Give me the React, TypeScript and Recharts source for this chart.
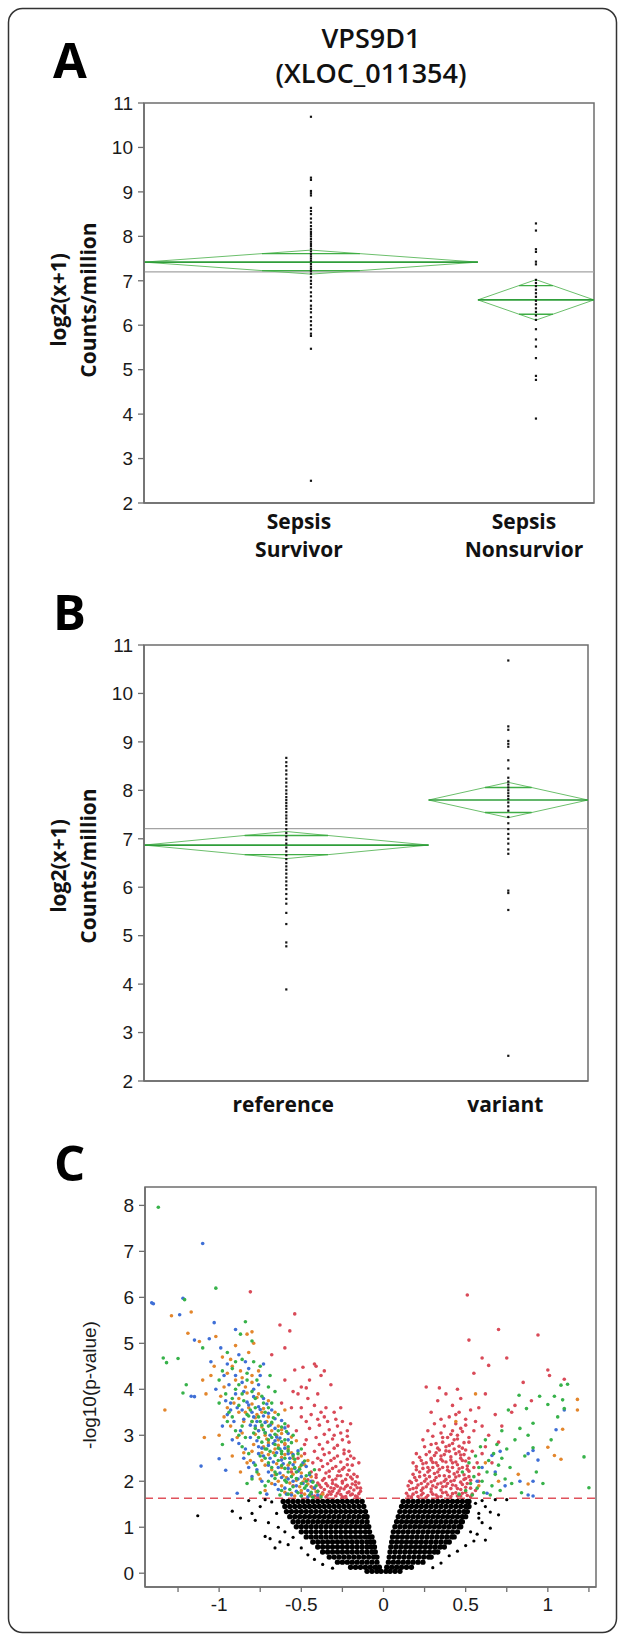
import React from 'react'
import { ScatterChart, Scatter, XAxis, YAxis, ReferenceLine, ReferenceArea } from 'recharts'

// ---- panel A: VPS9D1 by outcome ----
const aLabels = [['Sepsis', 'Survivor'], ['Sepsis', 'Nonsurvior']]
const aBounds = [0, 0.742, 1] // group widths (proportional to n, JMP style)
const aMeans = [7.42, 6.57]
const aHalfCI = [0.27, 0.455]
const aGrand = 7.2
const aSurvivor = [10.69, 9.32, 9.27, 9.02, 8.97, 8.92, 8.64, 8.57, 8.5, 8.4, 8.31, 8.23, 8.16, 8.1, 8.05, 8.0, 7.94,
  7.88, 7.83, 7.78, 7.72, 7.66, 7.6, 7.55, 7.5, 7.45, 7.38, 7.32, 7.27, 7.22, 7.16, 7.08, 7.0, 6.93, 6.85, 6.74, 6.65,
  6.55, 6.44, 6.37, 6.29, 6.18, 6.09, 6.0, 5.91, 5.81, 5.76, 5.47, 2.5]
const aNonsurvivor = [8.29, 8.13, 7.71, 7.65, 7.43, 7.37, 7.02, 6.95, 6.88, 6.8, 6.72, 6.64, 6.55, 6.47, 6.38, 6.3,
  6.22, 6.12, 5.91, 5.68, 5.52, 5.26, 4.86, 4.77, 3.9]

// ---- panel B: by genotype ----
const bLabels = [['reference'], ['variant']]
const bBounds = [0, 0.641, 1]
const bMeans = [6.87, 7.8]
const bHalfCI = [0.28, 0.365]
const bGrand = 7.21
const bReference = [8.67, 8.58, 8.5, 8.41, 8.33, 8.24, 8.16, 8.08, 8.0, 7.93, 7.86, 7.8, 7.74, 7.68, 7.62, 7.55, 7.48,
  7.42, 7.35, 7.28, 7.2, 7.12, 7.05, 6.98, 6.9, 6.82, 6.74, 6.66, 6.58, 6.5, 6.43, 6.36, 6.28, 6.2, 6.12, 6.04, 5.96,
  5.86, 5.76, 5.66, 5.47, 5.24, 4.86, 4.78, 3.89]
const bVariant = [10.68, 9.32, 9.25, 9.02, 8.96, 8.9, 8.62, 8.45, 8.26, 8.18, 8.12, 8.06, 8.0, 7.94, 7.88, 7.82, 7.75,
  7.67, 7.58, 7.45, 7.32, 7.2, 7.1, 7.0, 6.9, 6.78, 6.69, 5.93, 5.88, 5.53, 2.52]
const groupTicks = [2, 3, 4, 5, 6, 7, 8, 9, 10, 11]

// ---- panel C: volcano (log2 fold change, -log10 p) ----
const volcanoXTicks = [-1.25, -1, -0.75, -0.5, -0.25, 0, 0.25, 0.5, 0.75, 1, 1.25]
const volcanoYTicks = [0, 1, 2, 3, 4, 5, 6, 7, 8]
const pThreshold = 1.63

// dense non-significant cloud, written as rows "y| x x x"
const blackCore = `
0.04| -0.1 -0.07 -0.04 -0.015 0.015 0.04 0.07 0.1
0.13| -0.2 -0.17 -0.14 -0.11 -0.08 -0.05 -0.025 0.02 0.05 0.08 0.11 0.14 0.17
0.24| -0.28 -0.25 -0.22 -0.19 -0.16 -0.13 -0.1 -0.07 -0.04 0.03 0.06 0.09 0.12 0.15 0.18 0.21 0.24
0.35| -0.33 -0.3 -0.27 -0.24 -0.21 -0.18 -0.15 -0.12 -0.09 -0.06 -0.04 0.035 0.065 0.095 0.125 0.155 0.185 0.215 0.245 0.275 0.29
0.46| -0.37 -0.34 -0.31 -0.28 -0.25 -0.22 -0.19 -0.16 -0.13 -0.1 -0.07 -0.05 0.04 0.07 0.1 0.13 0.16 0.19 0.22 0.25 0.28 0.31 0.33
0.57| -0.4 -0.37 -0.34 -0.31 -0.28 -0.25 -0.22 -0.19 -0.16 -0.13 -0.1 -0.075 -0.055 0.045 0.075 0.105 0.135 0.165 0.195 0.225 0.255 0.285 0.315 0.345 0.37
0.68| -0.43 -0.4 -0.37 -0.34 -0.31 -0.28 -0.25 -0.22 -0.19 -0.16 -0.13 -0.1 -0.08 -0.06 0.05 0.08 0.11 0.14 0.17 0.2 0.23 0.26 0.29 0.32 0.35 0.38 0.4
0.79| -0.47 -0.44 -0.41 -0.38 -0.35 -0.32 -0.29 -0.26 -0.23 -0.2 -0.17 -0.14 -0.11 -0.085 -0.07 0.055 0.085 0.115 0.145 0.175 0.205 0.235 0.265 0.295 0.325 0.355 0.385 0.415 0.43
0.9| -0.5 -0.47 -0.44 -0.41 -0.38 -0.35 -0.32 -0.29 -0.26 -0.23 -0.2 -0.17 -0.14 -0.11 -0.085 0.06 0.09 0.12 0.15 0.18 0.21 0.24 0.27 0.3 0.33 0.36 0.39 0.42 0.45
1.01| -0.53 -0.5 -0.47 -0.44 -0.41 -0.38 -0.35 -0.32 -0.29 -0.26 -0.23 -0.2 -0.17 -0.14 -0.11 -0.09 0.07 0.1 0.13 0.16 0.19 0.22 0.25 0.28 0.31 0.34 0.37 0.4 0.43 0.46 0.47
1.12| -0.55 -0.52 -0.49 -0.46 -0.43 -0.4 -0.37 -0.34 -0.31 -0.28 -0.25 -0.22 -0.19 -0.16 -0.13 -0.1 0.08 0.11 0.14 0.17 0.2 0.23 0.26 0.29 0.32 0.35 0.38 0.41 0.44 0.47 0.48
1.23| -0.57 -0.54 -0.51 -0.48 -0.45 -0.42 -0.39 -0.36 -0.33 -0.3 -0.27 -0.24 -0.21 -0.18 -0.15 -0.12 -0.1 0.09 0.12 0.15 0.18 0.21 0.24 0.27 0.3 0.33 0.36 0.39 0.42 0.45 0.48 0.5
1.34| -0.59 -0.56 -0.53 -0.5 -0.47 -0.44 -0.41 -0.38 -0.35 -0.32 -0.29 -0.26 -0.23 -0.2 -0.17 -0.14 -0.11 0.1 0.13 0.16 0.19 0.22 0.25 0.28 0.31 0.34 0.37 0.4 0.43 0.46 0.49 0.51
1.45| -0.6 -0.57 -0.54 -0.51 -0.48 -0.45 -0.42 -0.39 -0.36 -0.33 -0.3 -0.27 -0.24 -0.21 -0.18 -0.15 -0.12 0.11 0.14 0.17 0.2 0.23 0.26 0.29 0.32 0.35 0.38 0.41 0.44 0.47 0.5 0.52
1.56| -0.61 -0.58 -0.55 -0.52 -0.49 -0.46 -0.43 -0.4 -0.37 -0.34 -0.31 -0.28 -0.25 -0.22 -0.19 -0.16 -0.13 0.12 0.15 0.18 0.21 0.24 0.27 0.3 0.33 0.36 0.39 0.42 0.45 0.48 0.51 0.52
`

const blackSparse = `-1.13,1.25 -0.92,1.35 -0.87,1.2 -0.8,1.3 -0.78,1.15 -0.75,1.45 -0.72,0.8 -0.69,0.75 -0.66,0.55
-0.63,0.68 -0.64,1.0 -0.7,1.1 -0.68,1.55 -0.72,1.6 -0.6,0.9 -0.82,1.58 -0.65,1.3 -0.58,0.62 -0.55,0.78 -0.5,0.55
-0.46,0.4 -0.42,0.3 -0.37,0.19 -0.31,0.11 0.58,1.3 0.62,1.45 0.65,1.33 0.7,1.27 0.65,0.98 0.6,1.1 0.57,0.85 0.55,0.7
0.5,0.6 0.45,0.48 0.4,0.38 0.35,0.22 0.6,1.58 0.68,1.6 0.75,1.6 0.56,1.52 0.62,0.72 0.58,1.2 0.53,0.9 0.3,0.12`

const redPts = `-0.42,1.68 -0.38,1.7 -0.35,1.66 -0.32,1.72 -0.29,1.68 -0.26,1.71 -0.23,1.67 -0.2,1.7 -0.17,1.68
-0.15,1.73 -0.4,1.78 -0.36,1.82 -0.33,1.77 -0.3,1.84 -0.27,1.79 -0.24,1.83 -0.21,1.77 -0.18,1.81 -0.16,1.86 -0.44,1.88
-0.39,1.92 -0.34,1.9 -0.31,1.95 -0.28,1.89 -0.25,1.96 -0.22,1.91 -0.19,1.94 -0.17,1.99 -0.46,2.03 -0.41,2.08
-0.37,2.02 -0.33,2.1 -0.29,2.05 -0.26,2.12 -0.23,2.04 -0.2,2.09 -0.18,2.15 -0.44,2.2 -0.39,2.25 -0.35,2.18 -0.31,2.28
-0.27,2.22 -0.24,2.3 -0.21,2.24 -0.19,2.35 -0.43,2.4 -0.38,2.45 -0.34,2.38 -0.3,2.5 -0.26,2.42 -0.22,2.48 -0.2,2.55
-0.48,2.6 -0.42,2.65 -0.37,2.7 -0.33,2.62 -0.28,2.78 -0.24,2.68 -0.21,2.85 -0.47,2.9 -0.41,2.95 -0.36,3.02 -0.31,2.92
-0.26,3.05 -0.22,3.1 -0.2,3.25 -0.45,3.15 -0.39,3.22 -0.34,3.3 -0.29,3.35 -0.44,3.45 -0.38,3.5 -0.5,3.6 -0.42,3.65
-0.46,3.8 -0.52,3.9 -0.5,4.05 -0.47,4.03 -0.54,4.42 -0.49,4.48 -0.42,4.55 -0.41,4.5 -0.36,4.4 -0.57,5.27 -0.63,5.4
-0.54,5.64 -0.81,6.12 -0.6,4.9 -0.68,4.75 -0.55,3.95 -0.62,3.7 -0.56,2.2 -0.6,2.8 -0.58,3.2 -0.52,2.5 -0.55,1.9
-0.5,1.75 -0.44,1.72 -0.4,1.66 -0.37,1.75 -0.34,1.7 -0.31,1.78 -0.28,1.74 -0.25,1.66 -0.22,1.75 -0.19,1.72 -0.16,1.66
-0.14,1.78 -0.42,1.84 -0.38,1.87 -0.35,1.95 -0.32,1.86 -0.29,1.92 -0.26,1.85 -0.23,1.88 -0.2,1.86 -0.17,1.92
-0.15,1.96 -0.43,2.0 -0.4,1.96 -0.36,2.06 -0.31,2.02 -0.28,2.12 -0.25,2.0 -0.22,2.14 -0.19,2.05 -0.41,2.14 -0.37,2.32
-0.33,2.22 -0.29,2.32 -0.25,2.26 -0.22,2.36 -0.4,2.5 -0.36,2.58 -0.32,2.45 -0.28,2.55 -0.24,2.6 -0.21,2.65 -0.39,2.8
-0.34,2.85 -0.3,2.72 -0.25,2.9 -0.22,2.98 -0.33,3.12 -0.28,3.2 -0.25,3.3 -0.36,3.4 -0.3,3.5 -0.4,3.35 -0.47,3.3
-0.53,3.1 -0.35,3.6 -0.4,3.9 -0.3,3.0 -0.45,4.2 -0.32,4.1 -0.38,4.3 -0.26,3.6 -0.5,3.4 -0.56,3.6 -0.6,4.2 -0.48,2.8
-0.18,2.5 -0.16,2.1 -0.15,2.4 -0.14,1.85
0.15,1.68 0.18,1.72 0.21,1.67 0.24,1.74 0.27,1.69 0.3,1.72 0.33,1.66 0.36,1.75 0.39,1.7 0.42,1.73 0.45,1.68
0.48,1.74 0.51,1.69 0.54,1.72 0.16,1.82 0.2,1.86 0.23,1.8 0.26,1.88 0.29,1.83 0.32,1.87 0.35,1.81 0.38,1.89 0.41,1.84
0.44,1.9 0.47,1.82 0.5,1.87 0.53,1.85 0.17,1.97 0.2,2.02 0.23,1.95 0.26,2.05 0.29,1.99 0.32,2.08 0.35,1.96 0.38,2.04
0.41,2.0 0.44,2.09 0.47,1.98 0.5,2.06 0.53,2.02 0.18,2.15 0.22,2.2 0.25,2.13 0.28,2.24 0.31,2.17 0.34,2.26 0.37,2.12
0.4,2.21 0.43,2.16 0.46,2.27 0.49,2.14 0.52,2.22 0.2,2.32 0.24,2.38 0.27,2.3 0.3,2.41 0.33,2.34 0.36,2.44 0.39,2.31
0.42,2.4 0.45,2.36 0.48,2.45 0.51,2.33 0.22,2.52 0.26,2.58 0.29,2.5 0.32,2.62 0.35,2.55 0.38,2.66 0.41,2.53 0.44,2.6
0.47,2.57 0.5,2.68 0.25,2.75 0.29,2.8 0.33,2.72 0.36,2.85 0.4,2.78 0.43,2.9 0.46,2.76 0.49,2.84 0.3,2.98 0.35,3.05
0.39,2.95 0.42,3.1 0.45,3.0 0.48,3.08 0.52,2.95 0.37,3.2 0.44,3.25 0.5,3.22 0.55,3.1 0.4,3.4 0.46,3.5 0.42,3.65
0.47,3.8 0.45,4.0 0.26,4.05 0.34,4.03 0.55,4.35 0.6,4.68 0.64,4.52 0.75,4.68 0.51,6.05 0.52,5.07 0.7,5.3 0.94,5.18
1.0,4.42 1.01,4.3 1.1,4.22 0.85,4.15 0.8,3.65 0.9,3.75 0.62,3.9 0.58,3.6 0.68,3.45 0.72,3.2 0.78,3.5 0.56,3.3 0.64,3.0
0.7,2.85 0.6,2.6 0.66,2.4 0.58,2.15 0.29,3.5 0.33,3.75 0.38,3.9 0.53,3.55 0.35,3.35 0.14,1.74 0.17,1.66 0.2,1.76
0.23,1.7 0.26,1.65 0.29,1.77 0.32,1.7 0.35,1.67 0.38,1.76 0.41,1.67 0.44,1.75 0.47,1.68 0.5,1.76 0.53,1.66 0.15,1.9
0.18,1.84 0.21,1.92 0.24,1.85 0.27,1.94 0.3,1.9 0.33,1.94 0.36,1.88 0.39,1.95 0.42,1.92 0.45,1.84 0.48,1.93 0.51,1.95
0.19,2.08 0.22,2.1 0.25,2.0 0.28,2.1 0.31,2.02 0.34,2.12 0.37,2.0 0.4,2.1 0.43,2.02 0.46,2.12 0.49,2.04 0.52,2.1
0.2,2.25 0.24,2.28 0.27,2.2 0.3,2.3 0.33,2.2 0.36,2.3 0.39,2.24 0.42,2.3 0.45,2.2 0.48,2.3 0.51,2.26 0.23,2.45 0.26,2.4
0.29,2.46 0.32,2.4 0.35,2.48 0.38,2.42 0.41,2.46 0.44,2.42 0.47,2.5 0.5,2.44 0.28,2.64 0.31,2.56 0.34,2.68 0.37,2.58
0.4,2.65 0.43,2.7 0.46,2.64 0.49,2.58 0.32,2.82 0.38,2.75 0.42,2.82 0.45,2.92 0.48,2.72 0.36,2.95 0.41,3.02 0.47,3.15
0.16,2.0 0.18,2.4 0.2,2.6 0.24,2.9 0.27,3.1 0.31,3.25 0.52,2.5 0.55,2.3 0.54,2.65 0.56,1.8 0.58,2.0 0.57,2.4 0.52,2.85
0.5,3.35 0.44,3.45 0.6,3.2 0.62,2.75`

const greenPts = `-0.45,1.7 -0.52,1.75 -0.58,1.72 -0.4,1.78 -0.48,1.85 -0.55,1.88 -0.62,1.8 -0.5,1.95 -0.43,1.98
-0.6,2.02 -0.56,2.1 -0.47,2.12 -0.65,2.15 -0.53,2.2 -0.42,2.25 -0.6,2.28 -0.68,2.3 -0.5,2.35 -0.57,2.4 -0.64,2.45
-0.72,2.5 -0.55,2.55 -0.62,2.6 -0.69,2.65 -0.5,2.7 -0.58,2.75 -0.66,2.8 -0.74,2.85 -0.6,2.9 -0.68,2.95 -0.55,3.0
-0.72,3.05 -0.64,3.1 -0.78,3.15 -0.7,3.2 -0.6,3.25 -0.75,3.3 -0.67,3.38 -0.82,3.42 -0.72,3.5 -0.78,3.6 -0.68,3.7
-0.85,3.75 -0.74,3.85 -0.8,3.95 -0.7,4.05 -0.88,4.1 -0.77,4.2 -0.83,4.35 -0.92,4.45 -0.75,4.5 -0.86,4.65 -0.95,4.8
-0.8,5.05 -0.87,5.2 -0.84,5.47 -1.02,6.2 -1.21,5.95 -1.34,4.68 -1.32,4.58 -1.25,4.67 -1.2,4.1 -1.22,3.92 -0.83,1.95
-0.98,2.8 -0.92,3.4 -1.0,3.7 -0.9,4.6 -0.69,4.3 -0.66,3.95 -0.88,3.0 -0.95,3.3 -1.1,4.9 -0.7,2.0 -0.77,2.2 -1.37,7.96
-0.38,1.66 -0.44,1.76 -0.5,1.68 -0.57,1.82 -0.63,1.7 -0.41,1.9 -0.47,2.0 -0.53,2.06 -0.59,1.98 -0.66,2.06 -0.45,2.18
-0.51,2.26 -0.58,2.2 -0.62,2.34 -0.7,2.4 -0.48,2.44 -0.54,2.48 -0.6,2.5 -0.66,2.56 -0.52,2.6 -0.58,2.66 -0.64,2.72
-0.71,2.7 -0.56,2.84 -0.62,2.86 -0.7,2.9 -0.76,2.95 -0.59,3.08 -0.66,3.02 -0.73,3.12 -0.62,3.18 -0.68,3.28 -0.74,3.22
-0.8,3.3 -0.64,3.45 -0.7,3.6 -0.76,3.4 -0.81,3.55 -0.73,3.7 -0.78,3.8 -0.86,3.9 -0.83,4.2 -0.79,4.6
-0.78,2.35 -0.82,2.6 -0.86,2.75 -0.9,3.1 -0.94,3.5 -0.8,2.05 -0.75,1.75 -0.72,1.9 -0.88,3.65 -0.96,3.9 -1.0,4.2
-0.84,2.95 -0.92,3.8 -0.98,4.4 -0.72,2.7 -0.79,3.05 -0.66,2.2 -0.86,3.2 -0.75,2.55 -0.9,4.0 -0.43,1.65 -0.47,1.9
-0.62,2.65 -0.54,2.3 -0.83,3.45
0.46,1.72 0.5,1.8 0.53,1.95 0.55,2.1 0.57,1.85 0.58,2.3 0.6,2.0 0.61,1.75 0.63,2.2 0.64,2.45 0.66,1.9 0.67,2.6
0.68,2.15 0.7,2.35 0.71,1.8 0.72,2.5 0.74,2.05 0.75,2.7 0.56,2.55 0.59,2.75 0.62,2.9 0.52,2.4 0.48,2.2 0.54,1.7
0.65,1.7 0.69,2.8 0.77,2.3 0.8,2.9 0.83,3.15 0.78,1.95 0.825,3.87 0.87,3.58 0.91,3.26 1.08,4.09 1.12,4.11 1.04,3.85
1.09,3.77 1.1,3.58 1.22,2.53 1.25,1.86 1.0,3.67 0.95,3.85 0.91,2.73 0.88,3.0 0.86,2.55 0.93,2.2 0.97,1.95 1.06,3.4
1.02,2.9 0.76,3.55 0.72,3.1 0.84,1.75`

const bluePts = `-0.5,1.68 -0.56,1.7 -0.46,1.8 -0.6,1.85 -0.53,1.9 -0.66,1.93 -0.44,2.0 -0.58,2.05 -0.5,2.1
-0.63,2.18 -0.7,2.2 -0.54,2.28 -0.47,2.32 -0.61,2.38 -0.67,2.42 -0.57,2.5 -0.73,2.55 -0.65,2.62 -0.52,2.66 -0.6,2.72
-0.7,2.78 -0.77,2.88 -0.63,2.94 -0.69,3.0 -0.58,3.04 -0.76,3.1 -0.66,3.15 -0.81,3.22 -0.72,3.28 -0.62,3.32 -0.79,3.4
-0.7,3.48 -0.86,3.55 -0.76,3.62 -0.83,3.72 -0.73,3.8 -0.9,3.9 -0.79,4.0 -0.86,4.15 -0.75,4.3 -0.82,4.45 -0.95,4.55
-0.88,4.75 -1.15,5.07 -1.06,5.1 -1.03,5.45 -1.24,5.62 -1.41,5.88 -1.4,5.86 -1.17,3.85 -1.15,3.84 -1.11,2.33 -1.0,2.49
-0.96,2.24 -0.89,1.74 -0.92,2.9 -0.98,3.2 -1.1,7.17 -1.22,5.98 -0.99,4.9 -0.9,5.3 -0.73,4.55 -0.68,3.55 -0.93,3.55
-0.85,2.5 -0.8,2.1 -0.4,1.7 -0.46,1.66 -0.53,1.78 -0.59,1.72 -0.64,1.82 -0.42,1.86 -0.49,1.95 -0.55,2.0 -0.62,2.08
-0.68,2.12 -0.45,2.14 -0.52,2.22 -0.58,2.28 -0.64,2.3 -0.49,2.4 -0.55,2.36 -0.62,2.46 -0.69,2.5 -0.76,2.6 -0.55,2.58
-0.63,2.7 -0.67,2.82 -0.74,2.72 -0.58,2.9 -0.65,2.96 -0.72,3.06 -0.6,3.16 -0.69,3.22 -0.77,3.3 -0.66,3.36 -0.73,3.42
-0.8,3.5 -0.75,3.56 -0.71,3.68 -0.82,3.66 -0.79,3.84 -0.85,3.95 -0.76,4.1 -0.9,4.3 -0.84,4.6 -0.96,3.75
-0.74,2.0 -0.79,2.4 -0.84,2.7 -0.88,2.82 -0.91,3.3 -0.95,3.45 -0.71,1.72 -0.77,2.25 -0.87,3.1 -0.93,3.7 -1.02,4.0
-0.81,2.95 -0.97,4.3 -0.7,2.35 -0.76,2.75 -0.85,3.35 -0.89,3.6 -0.82,2.3 -0.58,2.6 -0.52,2.05 -0.44,1.73 -0.66,2.88
-0.78,3.2 -1.05,4.6 -0.94,4.1
1.1,3.55 1.05,3.12 0.91,2.67 0.88,2.6 0.94,2.46 0.91,2.0 0.91,1.68 0.88,1.7 0.83,2.0 0.71,2.65
0.66,2.56 0.63,1.74 0.6,2.3 0.57,2.0 0.68,2.2 0.74,1.9`

const orangePts = `-0.48,1.72 -0.54,1.68 -0.6,1.76 -0.43,1.85 -0.51,1.88 -0.57,1.96 -0.64,2.0 -0.48,2.05 -0.55,2.15
-0.61,2.12 -0.68,2.25 -0.51,2.3 -0.58,2.35 -0.65,2.38 -0.46,2.45 -0.62,2.52 -0.7,2.58 -0.56,2.62 -0.66,2.7 -0.73,2.75
-0.6,2.82 -0.53,2.88 -0.71,2.92 -0.65,3.0 -0.78,3.02 -0.62,3.12 -0.74,3.18 -0.68,3.25 -0.8,3.3 -0.7,3.4 -0.77,3.45
-0.84,3.5 -0.73,3.58 -0.8,3.68 -0.88,3.8 -0.76,3.9 -0.84,4.05 -0.9,4.2 -0.8,4.3 -0.87,4.4 -0.82,4.8 -0.79,5.0 -0.83,5.2
-0.8,5.25 -0.9,4.95 -1.29,5.6 -1.17,5.68 -1.19,5.22 -1.12,5.04 -1.02,5.15 -1.33,3.55 -1.09,2.95 -1.0,3.0 -0.95,3.6
-0.92,2.55 -0.87,2.2 -0.85,3.3 -0.75,2.05 -1.05,4.3 -0.97,4.05 -1.08,3.9 -0.93,4.65 -0.6,3.55 -0.37,1.72 -0.44,1.68
-0.5,1.8 -0.56,1.74 -0.62,1.9 -0.46,1.94 -0.53,2.02 -0.59,2.08 -0.66,2.14 -0.44,2.1 -0.5,2.18 -0.56,2.26 -0.62,2.3
-0.72,2.35 -0.48,2.36 -0.54,2.42 -0.6,2.58 -0.67,2.62 -0.74,2.62 -0.5,2.55 -0.58,2.7 -0.64,2.78 -0.7,2.84 -0.56,2.96
-0.62,3.04 -0.68,3.1 -0.76,3.1 -0.64,3.2 -0.71,3.3 -0.78,3.38 -0.66,3.5 -0.74,3.5 -0.82,3.6 -0.7,3.75 -0.77,3.82
-0.83,3.92 -0.8,4.15 -0.86,4.25 -0.92,4.5 -0.76,4.4
-0.76,2.15 -0.81,2.45 -0.85,2.62 -0.89,2.95 -0.93,3.2 -0.97,3.4 -0.72,1.8 -0.79,2.8 -0.86,3.05 -0.91,3.7 -0.99,3.85
-0.83,2.4 -1.03,4.5 -0.68,1.95 -0.74,2.45 -0.88,3.5 -0.95,4.35 -0.8,2.65 -0.55,2.5 -0.49,1.98 -0.41,1.77 -0.64,2.9
-0.72,3.0 -1.1,4.2 -0.98,4.7
1.18,3.78 1.18,3.55 1.09,3.13 1.08,2.48 1.04,2.56 1.0,2.74
0.88,1.94 0.82,2.15 0.56,3.9 0.44,3.3 0.62,2.4 0.58,1.9 0.7,2.0`

function parsePairs(s: string) {
  return s.trim().split(/\s+/).map((p) => {
    const [x, y] = p.split(',')
    return { x: +x, y: +y }
  })
}
function parseRows(s: string) {
  const out: { x: number; y: number }[] = []
  s.trim().split('\n').forEach((line) => {
    const [yy, xs] = line.split('|')
    xs.trim().split(/\s+/).forEach((x) => out.push({ x: +x, y: +yy }))
  })
  return out
}

const TICK_FONT = '"Liberation Sans", Arial, sans-serif'
const LABEL_FONT = '"Open Sans", "Noto Sans", sans-serif'
const AXIS = '#6e6e6e'
const tickStyle = { fontSize: 19, fill: '#1a1a1a', fontFamily: TICK_FONT }

const dotSquare = (props: any) => (
  <rect x={props.cx - 1.1} y={props.cy - 1.1} width={2.2} height={2.2} fill="#151515" />
)
const dotOf = (r: number, fill: string) => (props: any) => (
  <circle cx={props.cx} cy={props.cy} r={r} fill={fill} />
)

type GroupProps = {
  top: number
  plotH: number
  right: number
  bounds: number[]
  means: number[]
  halfCI: number[]
  grand: number
  columns: number[][]
  labels: string[][]
  labelBase: number
  labelDx: number
}

function GroupPanel({ top, plotH, right, bounds, means, halfCI, grand, columns, labels, labelBase, labelDx }: GroupProps) {
  const centers = bounds.slice(0, -1).map((lo, i) => (lo + bounds[i + 1]) / 2)
  const points = columns.flatMap((vals, i) => vals.map((v) => ({ x: centers[i], y: v })))
  const segs: { s: { x: number; y: number }[]; kind: 'edge' | 'mean' | 'ovl' }[] = []
  means.forEach((m, i) => {
    const lo = bounds[i], hi = bounds[i + 1], c = centers[i], h = halfCI[i]
    segs.push({ kind: 'edge', s: [{ x: lo, y: m }, { x: c, y: m + h }] })
    segs.push({ kind: 'edge', s: [{ x: c, y: m + h }, { x: hi, y: m }] })
    segs.push({ kind: 'edge', s: [{ x: hi, y: m }, { x: c, y: m - h }] })
    segs.push({ kind: 'edge', s: [{ x: c, y: m - h }, { x: lo, y: m }] })
    segs.push({ kind: 'mean', s: [{ x: lo, y: m }, { x: hi, y: m }] })
    const d = h / Math.SQRT2
    const w = ((hi - lo) / 2) * (1 - 1 / Math.SQRT2)
    segs.push({ kind: 'ovl', s: [{ x: c - w, y: m + d }, { x: c + w, y: m + d }] })
    segs.push({ kind: 'ovl', s: [{ x: c - w, y: m - d }, { x: c + w, y: m - d }] })
  })

  const CatTick = (p: any) => {
    const lines = labels[p.index] || []
    return (
      <text x={p.x + labelDx} y={p.y + labelBase} textAnchor="middle" fontFamily={LABEL_FONT} fontWeight={700}
        fontSize={21} fill="#111">
        {lines.map((l, k) => (
          <tspan key={k} x={p.x + labelDx} dy={k === 0 ? 0 : 28}>{l}</tspan>
        ))}
      </text>
    )
  }

  return (
    <div style={{ position: 'absolute', left: 0, top: top - 10 }}>
      <ScatterChart width={625} height={plotH + 80} margin={{ top: 10, right, bottom: 0, left: 100 }}>
        <XAxis type="number" dataKey="x" domain={[0, 1]} ticks={centers} interval={0} tick={<CatTick />}
          tickLine={false} tickSize={0} tickMargin={0} height={70} axisLine={{ stroke: AXIS, strokeWidth: 1.5 }} />
        <YAxis type="number" dataKey="y" domain={[2, 11]} ticks={groupTicks} interval={0} width={44} tickSize={6}
          tickMargin={5} tick={tickStyle} axisLine={{ stroke: AXIS, strokeWidth: 1.5 }}
          tickLine={{ stroke: AXIS, strokeWidth: 1.3 }} />
        <ReferenceArea x1={0} x2={1} y1={2} y2={11} fill="none" stroke={AXIS} strokeWidth={1.5} />
        <ReferenceLine y={grand} stroke="#a3a3a3" strokeWidth={1.2} />
        {segs.map((g, i) => (
          <ReferenceLine key={i} segment={g.s as any} ifOverflow="visible"
            stroke={g.kind === 'edge' ? '#6cbf6c' : g.kind === 'mean' ? '#2f9e3a' : '#3fae45'}
            strokeWidth={g.kind === 'mean' ? 1.7 : g.kind === 'ovl' ? 1.4 : 1} />
        ))}
        <Scatter data={points} shape={dotSquare} isAnimationActive={false} />
      </ScatterChart>
    </div>
  )
}

function Volcano() {
  const core = parseRows(blackCore)
  const sparse = parsePairs(blackSparse)
  const red = parsePairs(redPts)
  const green = parsePairs(greenPts)
  const blue = parsePairs(bluePts)
  const orange = parsePairs(orangePts)
  const fmt = (v: number) => (Math.abs(v * 2 - Math.round(v * 2)) < 1e-6 ? String(v) : '')
  return (
    <div style={{ position: 'absolute', left: 0, top: 1177 }}>
      <ScatterChart width={625} height={455} margin={{ top: 10, right: 29, bottom: 0, left: 101 }}>
        <XAxis type="number" dataKey="x" domain={[-1.451, 1.293]} ticks={volcanoXTicks} interval={0}
          tickFormatter={fmt} tickSize={5} tickMargin={6} height={45} tick={tickStyle}
          axisLine={{ stroke: AXIS, strokeWidth: 1.5 }} tickLine={{ stroke: AXIS, strokeWidth: 1.3 }} />
        <YAxis type="number" dataKey="y" domain={[-0.3, 8.4]} ticks={volcanoYTicks} interval={0} width={44}
          tickSize={6} tickMargin={5} tick={tickStyle} axisLine={{ stroke: AXIS, strokeWidth: 1.5 }}
          tickLine={{ stroke: AXIS, strokeWidth: 1.3 }} />
        <ReferenceArea x1={-1.451} x2={1.293} y1={-0.3} y2={8.4} fill="none" stroke={AXIS} strokeWidth={1.5} />
        <Scatter data={core} shape={dotOf(2.7, '#000')} isAnimationActive={false} />
        <Scatter data={sparse} shape={dotOf(1.6, '#000')} isAnimationActive={false} />
        <Scatter data={red} shape={dotOf(1.8, '#d94a58')} isAnimationActive={false} />
        <Scatter data={orange} shape={dotOf(1.8, '#e3862c')} isAnimationActive={false} />
        <Scatter data={blue} shape={dotOf(1.8, '#3f6fd6')} isAnimationActive={false} />
        <Scatter data={green} shape={dotOf(1.8, '#37b24a')} isAnimationActive={false} />
        <ReferenceLine y={pThreshold} stroke="#e0525c" strokeWidth={1.4} strokeDasharray="8 5" />
      </ScatterChart>
    </div>
  )
}

function Overlay() {
  const letter = { fontFamily: LABEL_FONT, fontWeight: 700, fontSize: 49, fill: '#000' }
  const ylab = { fontFamily: LABEL_FONT, fontWeight: 700, fontSize: 21, fill: '#111' }
  const title = { fontFamily: LABEL_FONT, fontWeight: 600, fontSize: 27, fill: '#111' }
  return (
    <svg width={625} height={1640} style={{ position: 'absolute', left: 0, top: 0 }}>
      <rect x={8.5} y={8.5} width={608} height={1624} rx={14} fill="#fff" stroke="#333" strokeWidth={1.5} />
      <text x={53} y={78} {...letter}>A</text>
      <text x={53} y={630} {...letter}>B</text>
      <text x={54} y={1181} {...letter}>C</text>
      <text x={371} y={48} textAnchor="middle" {...title}>VPS9D1</text>
      <text x={371} y={83} textAnchor="middle" {...title}>(XLOC_011354)</text>
      {[300, 866].map((cy) => (
        <g key={cy}>
          <text transform={`translate(58,${cy}) rotate(-90)`} textAnchor="middle" dominantBaseline="central" {...ylab}>log2(x+1)</text>
          <text transform={`translate(88,${cy}) rotate(-90)`} textAnchor="middle" dominantBaseline="central" {...ylab}>Counts/million</text>
        </g>
      ))}
      <text transform="translate(89,1385) rotate(-90)" textAnchor="middle" dominantBaseline="central"
        fontFamily={TICK_FONT} fontSize={19} fill="#1a1a1a">-log10(p-value)</text>
    </svg>
  )
}

export default function App() {
  return (
    <div style={{ position: 'absolute', left: 0, top: 0, width: 625, height: 1640, background: '#fff' }}>
      <Overlay />
      <GroupPanel top={103} plotH={400} right={31} bounds={aBounds} means={aMeans} halfCI={aHalfCI} grand={aGrand}
        columns={[aSurvivor, aNonsurvivor]} labels={aLabels} labelBase={26} labelDx={-12} />
      <GroupPanel top={645} plotH={436} right={37} bounds={bBounds} means={bMeans} halfCI={bHalfCI} grand={bGrand}
        columns={[bReference, bVariant]} labels={bLabels} labelBase={31} labelDx={-3} />
      <Volcano />
    </div>
  )
}
